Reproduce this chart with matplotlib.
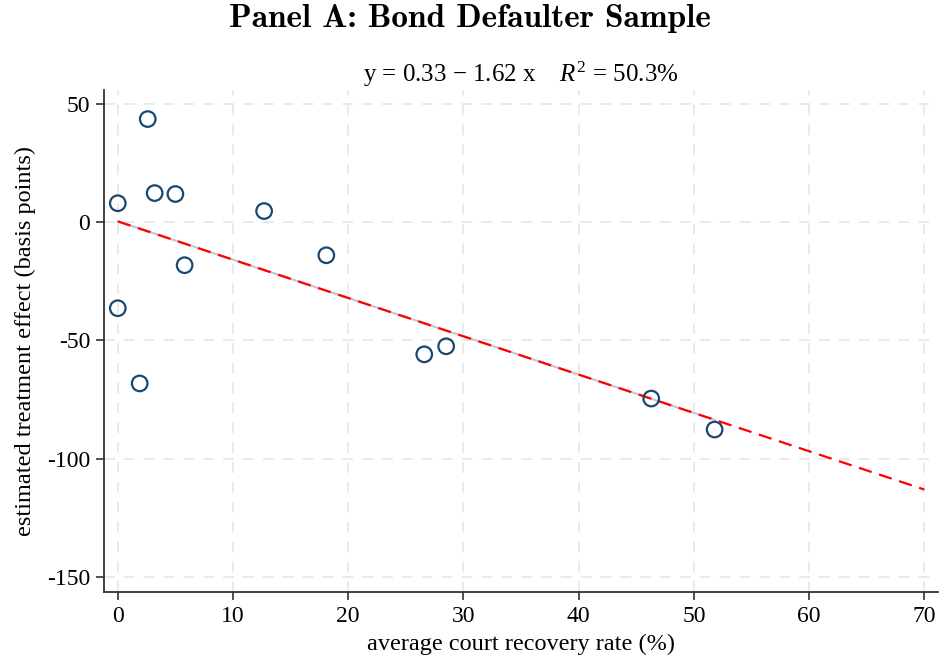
import matplotlib
matplotlib.use("Agg")
import matplotlib.pyplot as plt
import numpy as np

plt.rcParams['font.family'] = ['Liberation Serif', 'DejaVu Serif']
plt.rcParams['mathtext.fontset'] = 'custom'
plt.rcParams['mathtext.rm'] = 'Liberation Serif'
plt.rcParams['mathtext.it'] = 'Liberation Serif:italic'
plt.rcParams['axes.unicode_minus'] = False

# recovery rate (%) and estimated treatment effect (bp)
recovery = [2.6, 0.0, 3.2, 5.0, 12.7, 5.8, 18.1, 0.0, 1.9, 26.6, 28.5, 46.3, 51.8]
effect = [43.6, 8.0, 12.3, 11.9, 4.7, -18.2, -14.0, -36.4, -68.2, -55.9, -52.5, -74.6, -87.7]

intercept = 0.33
slope = -1.62
xticks = [0, 10, 20, 30, 40, 50, 60, 70]
yticks = [50, 0, -50, -100, -150]

fig = plt.figure(figsize=(9.4, 6.68), dpi=100)
ax = fig.add_axes([0.1106, 0.1138, 0.8874, 0.7515])

# grid
for v in xticks:
    ax.axvline(v, color='#e8e8e8', lw=1.3, ls=(0, (6, 5)), zorder=0)
for v in yticks:
    ax.axhline(v, color='#e8e8e8', lw=1.3, ls=(0, (6, 5)), zorder=0)

# fitted line over data range (gray) and extended dashed red line
xs = np.array([min(recovery), max(recovery)])
ax.plot(xs, intercept + slope * xs, color='#c8c8c8', lw=1.6, zorder=2)
xe = np.array([0, 70])
ax.plot(xe, intercept + slope * xe, color='red', lw=1.6, ls=(0, (6, 3.5)), zorder=3)

ax.scatter(recovery, effect, s=125, facecolors='none', edgecolors='#1a476f',
           linewidths=1.6, zorder=4)

ax.set_xlim(-1.2, 71.2)
ax.set_ylim(-156.4, 55.9)
ax.set_xticks(xticks)
ax.set_yticks(yticks)
ax.set_yticklabels([str(v) for v in yticks])
ax.tick_params(direction='out', length=6, width=1.2, color='#333333',
               labelsize=17, pad=4)
for s in ['top', 'right']:
    ax.spines[s].set_visible(False)
for s in ['left', 'bottom']:
    ax.spines[s].set_color('#333333')
    ax.spines[s].set_linewidth(1.3)

ax.set_xlabel('average court recovery rate (%)', fontsize=17.5, labelpad=5)
ax.set_ylabel('estimated treatment effect (basis points)', fontsize=17.5, labelpad=8)

fig.text(0.5, 0.972, 'Panel A: Bond Defaulter Sample', ha='center', va='center',
         fontsize=24, family='cmb10')
fig.text(0.554, 0.888, r'y = 0.33 $-$ 1.62 x    $R^2$ = 50.3%', ha='center',
         va='center', fontsize=18)

fig.savefig('out.png', dpi=100)
